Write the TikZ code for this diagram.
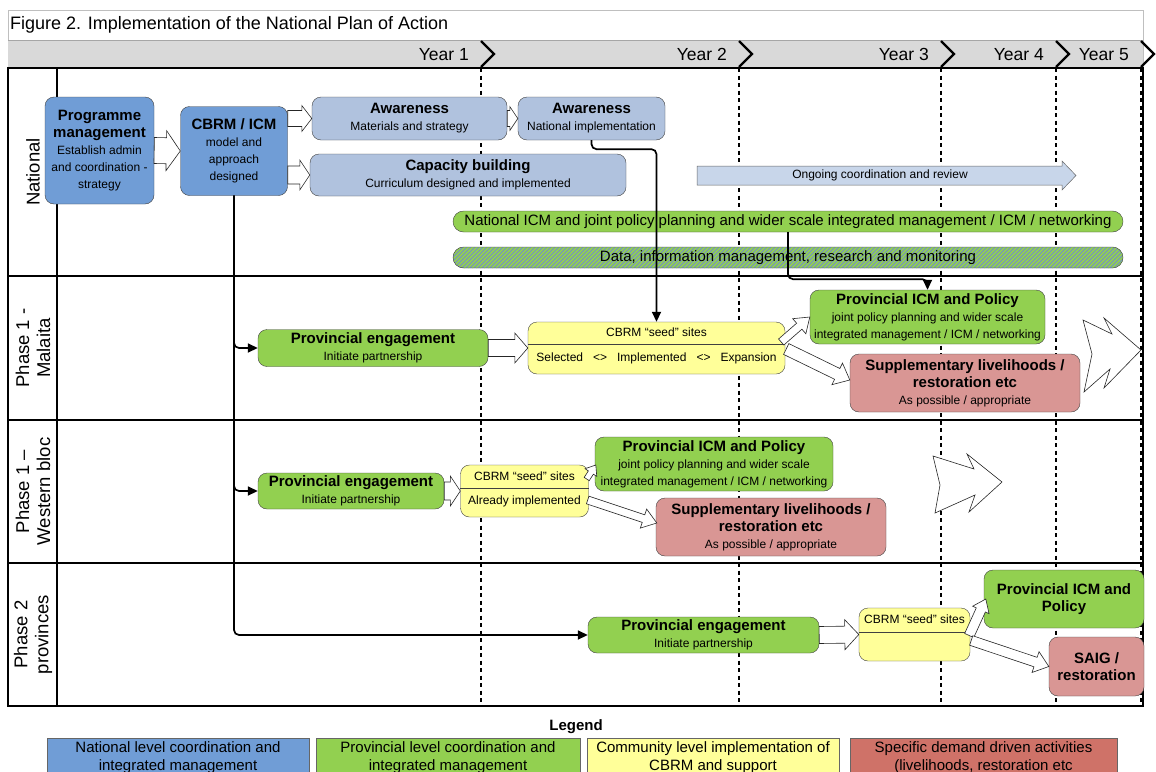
\documentclass[tikz,border=0pt]{standalone}
\usepackage{fontspec}
\setmainfont{Liberation Sans}
\usetikzlibrary{arrows.meta, calc, positioning}

\definecolor{natblue}{RGB}{112,157,214}
\definecolor{awblue}{RGB}{176,194,222}
\definecolor{ongoblue}{RGB}{200,214,234}
\definecolor{provgreen}{RGB}{146,208,80}
\definecolor{seedyellow}{RGB}{255,255,153}
\definecolor{demandred}{RGB}{217,150,148}
\definecolor{legendred}{RGB}{207,114,104}
\definecolor{headgray}{RGB}{217,217,217}
\definecolor{hatchblue}{RGB}{116,146,196}

\newcommand{\titlefont}{\fontsize{18}{20}\selectfont}
\newcommand{\yearfont}{\fontsize{17.5}{20}\selectfont}
\newcommand{\lanefont}{\fontsize{18.5}{21}\selectfont}
\newcommand{\barfont}{\fontsize{15}{18}\selectfont}
\newcommand{\boxtitle}{\normalfont\fontsize{15}{17}\selectfont\bfseries}
\newcommand{\boxnote}{\normalfont\fontsize{12}{17}\selectfont}

% hollow block arrow: start, end, half shaft, half head, head length
\newcommand{\hollowarrow}[5]{%
  \coordinate (ha-s) at (#1);
  \coordinate (ha-e) at (#2);
  \coordinate (ha-b) at ($(ha-e)!#5!(ha-s)$);
  \draw[blockarrow] ($(ha-s)!#3!90:(ha-e)$) -- ($(ha-b)!#3!90:(ha-e)$)
    -- ($(ha-b)!#4!90:(ha-e)$) -- (ha-e) -- ($(ha-b)!#4!-90:(ha-e)$)
    -- ($(ha-b)!#3!-90:(ha-e)$) -- ($(ha-s)!#3!-90:(ha-e)$) -- cycle;
}

\tikzset{
  box/.style={draw=black!75, rounded corners=9, align=center, inner sep=0pt, font=\boxnote},
  natbox/.style={box, fill=natblue},
  awbox/.style={box, fill=awblue},
  provbox/.style={box, fill=provgreen},
  seedbox/.style={box, fill=seedyellow},
  demandbox/.style={box, fill=demandred},
  bar/.style={draw=black!75, rounded corners=10.5, inner sep=0pt, font=\barfont, minimum width=670, minimum height=21},
  blockarrow/.style={draw=black!85, fill=white, line width=0.6pt, line join=miter},
  flow/.style={draw, line width=1.7pt, rounded corners=5, ->},
  yearline/.style={line width=2.4pt, dash pattern=on 4pt off 3.5pt},
  chevron/.style={line width=2.4pt, line join=miter},
  lanelabel/.style={rotate=90, align=center, font=\lanefont, inner sep=0pt},
  legendbox/.style={draw=black!60, anchor=north, align=center, inner sep=0pt, minimum height=38, font=\barfont},
}

\begin{document}
\begin{tikzpicture}[x=1pt, y=-1pt, >={Triangle[length=10pt, width=9pt]}]
  \useasboundingbox (0,0) rectangle (1156,771);

  % Frame and header
  \draw[black!25] (8,10) rectangle (1143,706);
  \fill[headgray] (8,40) rectangle (1143,68);
  \draw[black!35] (8,40) -- (1143,40);
  \node[anchor=base west, inner sep=0pt, font=\titlefont] (title) at (10,29) {Figure 2. Implementation of the National Plan of Action};

  % Lanes
  \draw[line width=1.2pt] (8,68) rectangle (1143,706);
  \foreach \y in {276,420,563} \draw[line width=1.2pt] (8,\y) -- (1143,\y);
  \draw[line width=1.2pt] (57,68) -- (57,706);
  \node[lanelabel] (lnat) at (33,172) {National};
  \node[lanelabel] (lmal) at (33,348) {Phase 1 -\\Malaita};
  \node[lanelabel] (lwes) at (33,491.5) {Phase 1 –\\Western bloc};
  \node[lanelabel] (lpro) at (33,634.5) {Phase 2\\provinces};

  % Years
  \foreach \c/\lab [count=\i] in {481/Year 1, 739/Year 2, 941/Year 3, 1056/Year 4, 1141/Year 5} {
    \draw[yearline] (\c,68) -- (\c,706);
    \draw[chevron] (\c,41) -- ++(13,13) -- ++(-13,13);
    \node[anchor=base east, inner sep=0pt, font=\yearfont] (year\i) at (\c-12,60) {\lab};
  }

  % National nodes
  \node[natbox, minimum width=109, minimum height=107] (prog) at (99.5,150.5)
    {\boxtitle Programme\\\boxtitle management\\\boxnote Establish admin\\\boxnote and coordination -\\\boxnote strategy};
  \node[natbox, minimum width=107, minimum height=89] (cbrm) at (234,151)
    {\boxtitle CBRM / ICM\\\boxnote model and\\\boxnote approach\\\boxnote designed};
  \node[awbox, minimum width=195, minimum height=43] (aw1) at (409.5,118.5)
    {\boxtitle Awareness\\\boxnote Materials and strategy};
  \node[awbox, minimum width=147, minimum height=43] (aw2) at (591.5,118.5)
    {\boxtitle Awareness\\\boxnote National implementation};
  \node[awbox, minimum width=316, minimum height=42] (cap) at (468,175)
    {\boxtitle Capacity building\\\boxnote Curriculum designed and implemented};
  \draw[draw=black!60, fill=ongoblue, line width=0.5pt] (697,166) -- (1062,166) -- (1062,161)
    -- (1076,175.5) -- (1062,190) -- (1062,185) -- (697,185) -- cycle;
  \node[font=\boxnote, inner sep=0pt] (ongoing) at (880,175.5) {Ongoing coordination and review};
  \node[bar, fill=provgreen] (natbar) at (788,221.5)
    {National ICM and joint policy planning and wider scale integrated management / ICM / networking};
  \node[bar, fill=hatchblue, path picture={
      \foreach \k in {0,4,...,700}
        \draw[provgreen, line width=1.6pt] ([xshift=\k-25]path picture bounding box.south west) -- ++(25pt,25pt);
    }] (databar) at (788,257.5)
    {Data, information management, research and monitoring};

  % Phase 1 - Malaita nodes
  \node[provbox, minimum width=230, minimum height=37] (peA) at (373,348)
    {\boxtitle Provincial engagement\\\boxnote Initiate partnership};
  \node[seedbox, minimum width=257, minimum height=52] (seedA) at (656.5,348) {};
  \draw[black!75] ([yshift=4pt]seedA.west) -- ([yshift=4pt]seedA.east);
  \node[font=\boxnote, inner sep=0pt] (seedAtop) at ([yshift=-10pt]seedA.north) {CBRM “seed” sites};
  \node[font=\boxnote, inner sep=0pt] (seedAbot) at ([yshift=16pt]seedA.south)
    {Selected\hspace{10pt}<>\hspace{10pt}Implemented\hspace{10pt}<>\hspace{10pt}Expansion};
  \node[provbox, minimum width=235, minimum height=54] (icmA) at (927.5,317)
    {\boxtitle Provincial ICM and Policy\\\boxnote joint policy planning and wider scale\\\boxnote integrated management / ICM / networking};
  \node[demandbox, minimum width=230, minimum height=58] (suppA) at (965,383)
    {\boxtitle Supplementary livelihoods /\\\boxtitle restoration etc\\\boxnote As possible / appropriate};

  % Phase 1 - Western bloc nodes
  \node[provbox, minimum width=186, minimum height=36] (peB) at (351,491)
    {\boxtitle Provincial engagement\\\boxnote Initiate partnership};
  \node[seedbox, minimum width=128, minimum height=52] (seedB) at (524.5,491) {};
  \draw[black!75] ([yshift=3pt]seedB.west) -- ([yshift=3pt]seedB.east);
  \node[font=\boxnote, inner sep=0pt] (seedBtop) at ([yshift=-11pt]seedB.north) {CBRM “seed” sites};
  \node[font=\boxnote, inner sep=0pt] (seedBbot) at ([yshift=16pt]seedB.south) {Already implemented};
  \node[provbox, minimum width=238, minimum height=54] (icmB) at (714,464)
    {\boxtitle Provincial ICM and Policy\\\boxnote joint policy planning and wider scale\\\boxnote integrated management / ICM / networking};
  \node[demandbox, minimum width=230, minimum height=58] (suppB) at (771,527)
    {\boxtitle Supplementary livelihoods /\\\boxtitle restoration etc\\\boxnote As possible / appropriate};

  % Phase 2 nodes
  \node[provbox, minimum width=231, minimum height=36] (peC) at (703.5,635)
    {\boxtitle Provincial engagement\\\boxnote Initiate partnership};
  \node[seedbox, minimum width=111, minimum height=53] (seedC) at (914.5,634.5) {};
  \draw[black!75] ([yshift=2.5pt]seedC.west) -- ([yshift=2.5pt]seedC.east);
  \node[font=\boxnote, inner sep=0pt] (seedCtop) at ([yshift=-11pt]seedC.north) {CBRM “seed” sites};
  \node[provbox, minimum width=160, minimum height=58] (icmC) at (1064,599)
    {\boxtitle Provincial ICM and\\\boxtitle Policy};
  \node[demandbox, minimum width=95, minimum height=59] (saig) at (1096.5,666.5)
    {\boxtitle SAIG /\\\boxtitle restoration};

  % Block arrows
  \hollowarrow{prog.east}{cbrm.west}{13pt}{20pt}{14pt}
  \hollowarrow{cbrm.east |- aw1.west}{aw1.west}{8pt}{13pt}{10pt}
  \hollowarrow{cbrm.east |- cap.west}{cap.west}{9pt}{15pt}{10pt}
  \hollowarrow{aw1.east}{aw2.west}{8pt}{12pt}{8pt}
  \hollowarrow{peA.east}{seedA.west}{8.5pt}{15pt}{13pt}
  \hollowarrow{$(seedA.east)+(-4,-6)$}{icmA.west}{4pt}{10pt}{14pt}
  \hollowarrow{$(seedA.east)+(1,1)$}{$(suppA.west)+(0,-3)$}{6pt}{12pt}{14pt}
  \hollowarrow{peB.east}{seedB.west}{9pt}{15pt}{10pt}
  \hollowarrow{$(seedB.east)+(-2,-12)$}{$(icmB.west)+(1,1)$}{3pt}{7pt}{9pt}
  \hollowarrow{$(seedB.east)+(-1,9)$}{$(suppB.west)+(1,-4)$}{4pt}{10pt}{14pt}
  \hollowarrow{peC.east}{seedC.west}{8.5pt}{15pt}{14pt}
  \hollowarrow{$(seedC.east)+(-1,1)$}{$(icmC.west)+(2,0)$}{5pt}{9pt}{12pt}
  \hollowarrow{$(seedC.east)+(1,6)$}{saig.west}{5pt}{11pt}{14pt}

  % Outline arrows
  \draw[blockarrow] (1083,320) -- (1112,334) -- (1104,318) -- (1141,350) -- (1104,388)
    -- (1110,369) -- (1084,392) -- (1092,354) -- cycle;
  \draw[blockarrow] (933,456) -- (974,469) -- (967,454) -- (1002,482) -- (969,512)
    -- (975,495) -- (935,513) -- (940,485) -- cycle;

  % Connectors
  \draw[flow] (cbrm.south) |- (peA.west);
  \draw[flow] (cbrm.south) |- (peB.west);
  \draw[flow] (cbrm.south) |- (peC.west);
  \draw[flow] (aw2.south) -- ++(0,9) -| (seedA.north);
  \draw[flow] (natbar.south) -- ++(0,47) -| (icmA.north);

  % Legend
  \node[font=\boxtitle, inner sep=0pt] (legend) at (576,727) {Legend};
  \node[legendbox, fill=natblue, minimum width=262] (legnat) at (178,738)
    {National level coordination and\\integrated management};
  \node[legendbox, fill=provgreen, minimum width=264] (legprov) at (448,738)
    {Provincial level coordination and\\integrated management};
  \node[legendbox, fill=seedyellow, minimum width=252] (legcom) at (713,738)
    {Community level implementation of\\CBRM and support};
  \node[legendbox, fill=legendred, minimum width=267] (legdem) at (983.5,738)
    {Specific demand driven activities\\(livelihoods, restoration etc};
\end{tikzpicture}
\end{document}
